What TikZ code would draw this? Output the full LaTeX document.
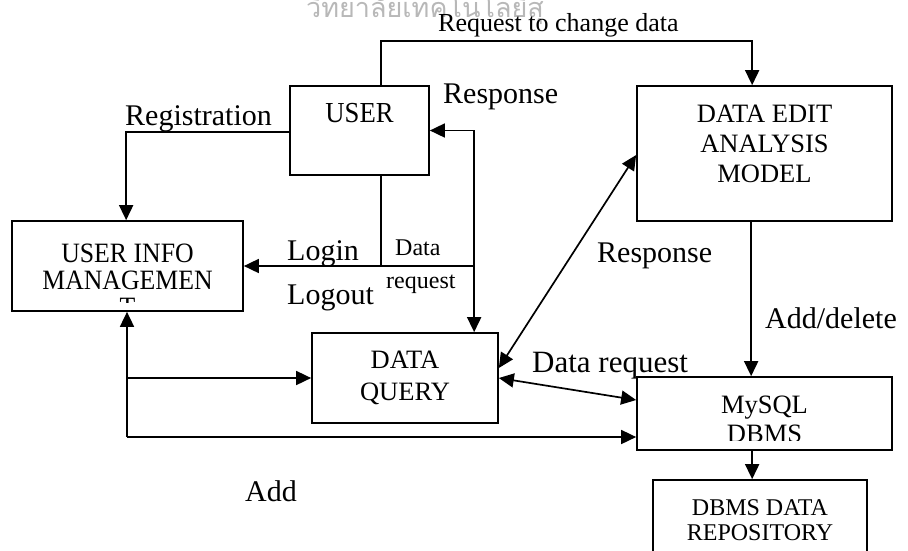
\documentclass[tikz,border=0pt]{standalone}
\usepackage{fontspec}
\setmainfont{Liberation Serif}
\newfontfamily\narrowfont{Liberation Serif}[FakeStretch=0.92]
\newfontfamily\thaifont[Script=Thai]{Loma}
\usetikzlibrary{arrows.meta}

\tikzset{
  box/.style={draw, line width=1.7pt, inner sep=0pt},
  conn/.style={line width=1.7pt},
  arr/.style={conn, -{Triangle[length=15pt,width=14pt]}},
  arrboth/.style={conn, {Triangle[length=15pt,width=14pt]}-{Triangle[length=15pt,width=14pt]}},
  lbl/.style={anchor=base west, inner sep=0pt, font=\fontsize{30}{30}\selectfont},
  small/.style={anchor=base west, inner sep=0pt, font=\fontsize{24}{24}\selectfont},
  btext/.style={anchor=base, inner sep=0pt, font=\fontsize{26.5}{26.5}\selectfont},
  infotext/.style={btext, font=\narrowfont\fontsize{28}{28}\selectfont},
  wmark/.style={anchor=base, inner sep=0pt, text=black!28, font=\thaifont\fontsize{27}{27}\selectfont}
}

\begin{document}
\begin{tikzpicture}[x=1pt,y=-1pt]
\clip (0,0) rectangle (908,550);
\fill[white] (0,0) rectangle (908,550);

% faint watermark along the top edge
\node[wmark] (wm) at (425,17) {วิทยาลัยเทคโนโลยีสุ};

% boxes
\node[box, minimum width=139pt, minimum height=89pt] (user) at (359.5,130.5) {};
\node[box, minimum width=255pt, minimum height=135pt] (edit) at (764.5,153.5) {};
\node[box, minimum width=231pt, minimum height=90pt] (info) at (127.5,266) {};
\node[box, minimum width=186pt, minimum height=90pt] (query) at (405,378) {};
\node[box, minimum width=255pt, minimum height=73pt] (mysql) at (764.5,413.5) {};
\node[box, minimum width=214pt, minimum height=80pt] (repo) at (760,520) {};

% box captions
\node[btext, font=\narrowfont\fontsize{29}{29}\selectfont] (userT) at (359.5,122) {USER};
\node[btext] (editA) at (764.5,122) {DATA EDIT};
\node[btext] (editB) at (764.5,152) {ANALYSIS};
\node[btext] (editC) at (764.5,182) {MODEL};
\begin{scope}
  \clip (13,222) rectangle (242,302);
  \node[infotext] (infoA) at (127.5,262) {USER INFO};
  \node[infotext] (infoB) at (127.5,289) {MANAGEMEN};
  \node[infotext] (infoC) at (127.5,316) {T};
\end{scope}
\node[btext] (queryA) at (405,368) {DATA};
\node[btext] (queryB) at (405,400) {QUERY};
\begin{scope}
  \clip (638,378) rectangle (891,440);
  \node[btext] (mysqlA) at (764.5,413) {MySQL};
  \node[btext] (mysqlB) at (764.5,442) {DBMS};
\end{scope}
\node[btext, font=\fontsize{24}{24}\selectfont] (repoA) at (760,515) {DBMS DATA};
\node[btext, font=\fontsize{24}{24}\selectfont] (repoB) at (760,540) {REPOSITORY};

% connector anchor points
\coordinate (uTop) at ([xshift=92pt]user.north west);
\coordinate (uBot) at ([xshift=92pt]user.south west);
\coordinate (rV) at ([xshift=163pt]query.north west);
\coordinate (eIn) at ([xshift=116pt]edit.north west);
\coordinate (regX) at ([xshift=115pt]info.north west);
\coordinate (eOut) at ([xshift=115pt]edit.south west);
\coordinate (mOut) at ([xshift=116pt]mysql.south west);
\coordinate (lowL) at (127,437);

% connectors
\draw[arr] (uTop) -- ++(0,-44) -| (eIn);
\draw[arr] ([yshift=-1.5pt]user.west) -| (regX);
\draw[arrboth] (user.east) -| (rV);
\draw[arr] (uBot) |- (info.east);
\draw[conn] (uBot |- info.east) -- (rV |- info.east);
\draw[arrboth] ([yshift=10pt]query.east) -- ([yshift=-1.5pt]edit.west);
\draw[arrboth] (query.east) -- ([yshift=13.5pt]mysql.west);
\draw[arr] (eOut) -- (eOut |- mysql.north);
\draw[arr] (mOut) -- (mOut |- repo.north);
\draw[arr] (lowL) -- (lowL |- info.south);
\draw[arr] (lowL |- query.west) -- (query.west);
\draw[arr] (lowL) -- (lowL -| mysql.west);

% labels
\node[small, font=\fontsize{26}{26}\selectfont] (reqL) at (438,31) {Request to change data};
\node[lbl] (regL) at (125,125) {Registration};
\node[lbl] (resp1) at (443,103) {Response};
\node[lbl] (loginL) at (287,260) {Login};
\node[lbl] (logoutL) at (287,304) {Logout};
\node[small] (dataL) at (395,255) {Data};
\node[small] (reqstL) at (386,288) {request};
\node[lbl] (resp2) at (597,262) {Response};
\node[lbl] (adddel) at (765,328) {Add/delete};
\node[lbl, font=\fontsize{31}{31}\selectfont] (dreq) at (532,372) {Data request};
\node[lbl] (addL) at (245,501) {Add};
\end{tikzpicture}
\end{document}
